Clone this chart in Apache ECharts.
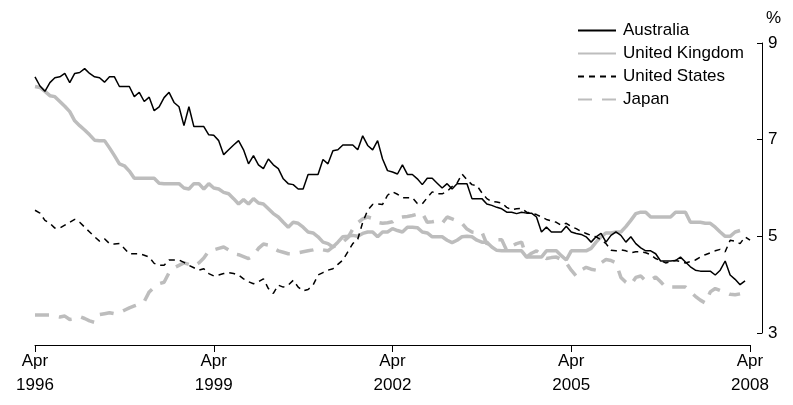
<!DOCTYPE html>
<html>
<head>
<meta charset="utf-8">
<script src="https://cdn.jsdelivr.net/npm/echarts@6/dist/echarts.min.js"></script>
<style>
html,body{margin:0;padding:0;background:#fff;}
#c{width:793px;height:405px;}
</style>
</head>
<body>
<div id="c"></div>
<script>
// Monthly observations, first value = April 1996
var tickLabels = ['Apr\n1996', 'Apr\n1999', 'Apr\n2002', 'Apr\n2005', 'Apr\n2008'];

var australia = [
  8.30, 8.11, 8.00, 8.18, 8.28, 8.30, 8.37, 8.18, 8.37, 8.39, 8.47, 8.37, 8.30, 8.28, 8.19, 8.30, 8.30, 8.10, 8.10, 8.10, 7.89, 7.98, 7.79, 7.88, 7.60,
  7.68, 7.87, 7.98, 7.77, 7.68, 7.29, 7.68, 7.27, 7.27, 7.27, 7.10, 7.09, 6.98, 6.69, 6.79, 6.89, 6.98, 6.79, 6.50, 6.67, 6.48, 6.40, 6.60, 6.48,
  6.40, 6.19, 6.09, 6.07, 5.98, 5.98, 6.28, 6.28, 6.28, 6.59, 6.50, 6.77, 6.79, 6.89, 6.89, 6.89, 6.79, 7.08, 6.88, 6.79, 6.98, 6.60, 6.36, 6.33,
  6.29, 6.48, 6.28, 6.28, 6.19, 6.07, 6.20, 6.20, 6.10, 6.00, 6.09, 5.98, 6.09, 6.09, 6.09, 5.78, 5.78, 5.78, 5.67, 5.64, 5.60, 5.57, 5.50, 5.50,
  5.47, 5.50, 5.48, 5.48, 5.40, 5.09, 5.19, 5.09, 5.09, 5.09, 5.21, 5.09, 5.06, 5.04, 4.99, 4.88, 4.99, 5.06, 4.88, 5.02, 5.09, 5.02, 4.88, 4.99,
  4.85, 4.76, 4.70, 4.70, 4.64, 4.49, 4.49, 4.49, 4.50, 4.57, 4.47, 4.37, 4.30, 4.28, 4.28, 4.28, 4.20, 4.30, 4.49, 4.20, 4.11, 4.00, 4.08
];

var unitedKingdom = [
  8.10, 8.08, 8.00, 7.91, 7.89, 7.79, 7.69, 7.58, 7.39, 7.29, 7.20, 7.10, 6.99, 6.98, 6.98, 6.83, 6.67, 6.50, 6.46, 6.35, 6.20, 6.20, 6.20, 6.20, 6.20,
  6.10, 6.09, 6.09, 6.09, 6.09, 6.00, 5.98, 6.09, 6.09, 5.98, 6.09, 6.00, 5.98, 5.91, 5.88, 5.78, 5.67, 5.76, 5.67, 5.78, 5.69, 5.67, 5.57, 5.47,
  5.40, 5.29, 5.19, 5.29, 5.27, 5.19, 5.09, 5.07, 4.99, 4.88, 4.85, 4.78, 4.88, 4.99, 5.00, 5.02, 5.00, 5.06, 5.09, 5.09, 4.99, 5.09, 5.09, 5.16,
  5.12, 5.09, 5.19, 5.19, 5.18, 5.09, 5.07, 4.99, 4.99, 4.99, 4.92, 4.87, 4.92, 4.99, 5.00, 4.99, 4.92, 4.88, 4.88, 4.78, 4.71, 4.70, 4.70, 4.70,
  4.70, 4.70, 4.57, 4.57, 4.57, 4.57, 4.70, 4.70, 4.70, 4.60, 4.51, 4.70, 4.70, 4.70, 4.70, 4.75, 4.88, 4.99, 5.07, 5.07, 5.09, 5.09, 5.20, 5.33,
  5.47, 5.50, 5.50, 5.40, 5.40, 5.40, 5.40, 5.40, 5.50, 5.50, 5.50, 5.29, 5.29, 5.29, 5.27, 5.27, 5.19, 5.09, 5.00, 5.00, 5.09, 5.12
];

var unitedStates = [
  5.54, 5.48, 5.33, 5.27, 5.17, 5.17, 5.23, 5.29, 5.35, 5.29, 5.19, 5.09, 4.99, 4.90, 4.95, 4.85, 4.84, 4.85, 4.75, 4.64, 4.64, 4.64, 4.61, 4.57, 4.44,
  4.40, 4.40, 4.51, 4.51, 4.51, 4.46, 4.40, 4.35, 4.30, 4.33, 4.23, 4.18, 4.20, 4.23, 4.25, 4.23, 4.20, 4.12, 4.06, 4.02, 4.06, 4.12, 3.92, 3.82,
  3.99, 3.95, 3.99, 4.09, 3.95, 3.87, 3.90, 3.99, 4.20, 4.25, 4.30, 4.33, 4.42, 4.51, 4.68, 4.85, 4.94, 5.29, 5.54, 5.66, 5.67, 5.66, 5.85, 5.92,
  5.87, 5.80, 5.80, 5.80, 5.68, 5.67, 5.80, 5.92, 5.88, 5.88, 5.93, 6.03, 6.10, 6.29, 6.17, 6.07, 6.05, 5.90, 5.78, 5.72, 5.71, 5.69, 5.60, 5.55,
  5.57, 5.58, 5.50, 5.48, 5.45, 5.40, 5.35, 5.32, 5.29, 5.23, 5.27, 5.20, 5.16, 5.10, 5.06, 5.02, 4.99, 4.93, 4.85, 4.71, 4.70, 4.72, 4.70, 4.66,
  4.68, 4.68, 4.66, 4.62, 4.54, 4.50, 4.45, 4.47, 4.50, 4.48, 4.45, 4.48, 4.51, 4.57, 4.62, 4.66, 4.70, 4.73, 4.68, 4.92, 4.90, 4.85, 4.99, 4.92
];

var japan = [
  3.37, 3.37, 3.37, 3.37, 3.35, 3.33, 3.35, 3.28, 3.30, 3.34, 3.30, 3.25, 3.22, 3.38, 3.40, 3.42, 3.40, 3.42, 3.47, 3.52, 3.56, 3.60, 3.65, 3.85,
  3.95, 4.02, 4.05, 4.25, 4.35, 4.40, 4.45, 4.42, 4.38, 4.45, 4.55, 4.70, 4.72, 4.75, 4.78, 4.72, 4.64, 4.62, 4.58, 4.54, 4.60, 4.75, 4.84, 4.82, 4.75,
  4.70, 4.67, 4.64, 4.64, 4.66, 4.68, 4.70, 4.72, 4.75, 4.72, 4.70, 4.78, 4.83, 4.88, 4.97, 5.15, 5.28, 5.36, 5.40, 5.37, 5.29, 5.27, 5.28, 5.30,
  5.38, 5.40, 5.41, 5.43, 5.46, 5.48, 5.29, 5.30, 5.32, 5.27, 5.40, 5.36, 5.32, 5.27, 5.15, 5.09, 5.08, 5.09, 4.84, 4.90, 4.93, 4.93, 4.71, 4.80,
  4.85, 4.88, 4.57, 4.65, 4.70, 4.62, 4.54, 4.56, 4.57, 4.52, 4.45, 4.30, 4.18, 4.30, 4.36, 4.32, 4.30, 4.45, 4.52, 4.50, 4.45, 4.15, 4.05, 4.00,
  4.15, 4.18, 4.08, 4.10, 4.16, 4.06, 3.95, 3.95, 3.95, 3.95, 3.95, 3.85, 3.76, 3.68, 3.62, 3.85, 3.92, 3.88, 3.85, 3.80, 3.79, 3.81
];

var yTicks = [3, 5, 7, 9];

function pairs(arr) {
  return arr.map(function (v, i) { return [i, v]; });
}

var FONT = '"Liberation Sans Narrow", "Arial Narrow", "Liberation Sans", Arial, sans-serif';
var GREY = '#bdbdbd';

var chart = echarts.init(document.getElementById('c'), null, { renderer: 'canvas' });
chart.setOption({
  animation: false,
  backgroundColor: '#ffffff',
  grid: { left: 35, right: 43, top: 43, bottom: 72, containLabel: false },
  legend: {
    orient: 'vertical',
    left: 572,
    top: 17,
    itemWidth: 38,
    itemHeight: 14,
    itemGap: 6,
    itemStyle: { opacity: 0 },
    textStyle: { fontFamily: FONT, fontSize: 17, color: '#000', padding: [0, 0, 0, 2] },
    data: ['Australia', 'United Kingdom', 'United States', 'Japan']
  },
  xAxis: {
    type: 'value',
    min: 0,
    max: 144,
    interval: 36,
    offset: 12,
    splitLine: { show: false },
    axisLine: { show: true, onZero: false, lineStyle: { color: '#000', width: 1 } },
    axisTick: { show: true, length: 7, lineStyle: { color: '#000', width: 1 } },
    axisLabel: {
      margin: 4,
      fontFamily: FONT,
      fontSize: 17,
      lineHeight: 24,
      color: '#000',
      formatter: function (v) { return tickLabels[Math.round(v / 36)] || ''; }
    }
  },
  yAxis: {
    type: 'value',
    position: 'right',
    min: 3,
    max: 9,
    interval: 2,
    offset: 12,
    name: '%',
    nameLocation: 'end',
    nameGap: 16,
    nameTextStyle: { fontFamily: FONT, fontSize: 17, color: '#000', align: 'left', padding: [0, 0, 0, 4] },
    splitLine: { show: false },
    axisLine: { show: true, onZero: false, lineStyle: { color: '#000', width: 1 } },
    axisTick: { show: true, inside: true, length: 5, lineStyle: { color: '#000', width: 1 } },
    axisLabel: {
      margin: 6,
      fontFamily: FONT,
      fontSize: 17,
      color: '#000',
      formatter: function (v) { return yTicks.indexOf(v) >= 0 ? String(v) : ''; }
    }
  },
  series: [
    {
      name: 'Australia', type: 'line', data: pairs(australia), z: 4,
      symbol: 'none', showSymbol: false,
      lineStyle: { color: '#000', width: 1.5, type: 'solid' },
      itemStyle: { color: '#000' }
    },
    {
      name: 'United Kingdom', type: 'line', data: pairs(unitedKingdom), z: 2,
      symbol: 'none', showSymbol: false,
      lineStyle: { color: GREY, width: 3.5, type: 'solid' },
      itemStyle: { color: GREY }
    },
    {
      name: 'United States', type: 'line', data: pairs(unitedStates), z: 3,
      symbol: 'none', showSymbol: false,
      lineStyle: { color: '#000', width: 1.5, type: [6, 5] },
      itemStyle: { color: '#000' }
    },
    {
      name: 'Japan', type: 'line', data: pairs(japan), z: 1,
      symbol: 'none', showSymbol: false,
      lineStyle: { color: GREY, width: 3.5, type: [14, 10] },
      itemStyle: { color: GREY }
    }
  ]
});
</script>
</body>
</html>
